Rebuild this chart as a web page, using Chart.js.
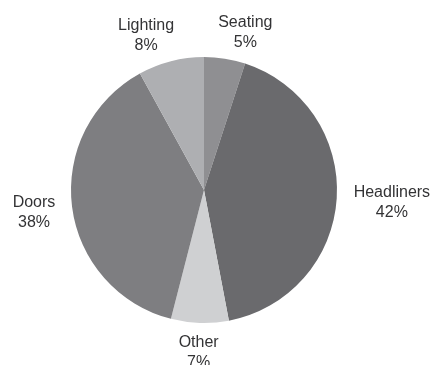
<!DOCTYPE html>
<html>
<head>
<meta charset="utf-8">
<script src="https://cdn.jsdelivr.net/npm/chart.js@4/dist/chart.umd.min.js"></script>
<style>
  html, body { margin: 0; padding: 0; background: #fff; }
  #chart { display: block; }
</style>
</head>
<body>
<canvas id="chart" width="432" height="365"></canvas>
<script>
// Data (clockwise from 12 o'clock)
const labels = ['Seating', 'Headliners', 'Other', 'Doors', 'Lighting'];
const shares = [5, 42, 7, 38, 8];
const sliceColors = ['#8f8f92', '#6a6a6d', '#cfd0d2', '#7e7e81', '#aeafb2'];

// Draw "Name / NN%" outside each slice, pushed clear of the rim
const outsideLabels = {
    id: 'outsideLabels',
    afterDatasetsDraw(chart) {
        const ctx = chart.ctx;
        const meta = chart.getDatasetMeta(0);
        ctx.save();
        ctx.font = '16px "Liberation Sans", Arial, sans-serif';
        ctx.fillStyle = '#333335';
        ctx.textAlign = 'center';
        ctx.textBaseline = 'middle';

        const boxes = meta.data.map((arc, i) => {
            const p = arc.getProps(['x', 'y', 'startAngle', 'endAngle', 'outerRadius'], true);
            const mid = (p.startAngle + p.endAngle) / 2;
            const w = ctx.measureText(labels[i]).width;
            const cx = p.x + Math.cos(mid) * (p.outerRadius + 17 + w / 2);
            const cy = p.y + Math.sin(mid) * (p.outerRadius + 28) + 2;
            return { i: i, cx: cx, cy: cy, w: w };
        });

        // spread labels that sit side by side on the same row
        for (let a = 0; a < boxes.length; a++) {
            for (let b = 0; b < boxes.length; b++) {
                const L = boxes[a], R = boxes[b];
                if (a === b || L.cx > R.cx || Math.abs(L.cy - R.cy) > 30) continue;
                const gap = (R.cx - R.w / 2) - (L.cx + L.w / 2);
                if (gap < 44) {
                    const d = (44 - gap) / 2;
                    L.cx -= d;
                    R.cx += d;
                }
            }
        }

        boxes.forEach(b => {
            ctx.fillText(labels[b.i], b.cx, b.cy - 10);
            ctx.fillText(shares[b.i] + '%', b.cx, b.cy + 10);
        });
        ctx.restore();
    }
};

const ctx = document.getElementById('chart').getContext('2d');
const chart = new Chart(ctx, {
    type: 'pie',
    data: {
        labels: labels,
        datasets: [{
            data: shares,
            backgroundColor: sliceColors,
            borderWidth: 0
        }]
    },
    options: {
        responsive: false,
        animation: false,
        layout: {
            padding: { left: 71, right: 95, top: 57, bottom: 42 }
        },
        plugins: {
            legend: { display: false },
            tooltip: { enabled: false }
        }
    },
    plugins: [outsideLabels]
});
</script>
</body>
</html>
